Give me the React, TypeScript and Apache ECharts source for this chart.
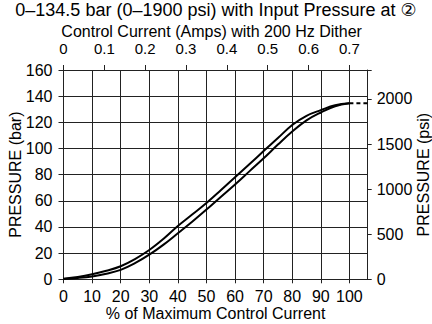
import React, { useEffect, useRef } from "react";
import * as echarts from "echarts";

const pctTicks = [0, 5, 10, 15, 20, 25, 30, 35, 40, 45, 50, 55, 60, 65, 70, 75, 80, 85, 90, 95, 100];
const upperBar = [0.5, 1.8, 3.8, 6.5, 10, 15.5, 22.4, 31, 40.8, 49.5, 58.3, 68, 78, 88, 98, 108, 118, 125, 129.3, 133, 134.5];
const lowerBar = [0.3, 1, 2.2, 4.3, 7.2, 12.3, 18.8, 26.5, 35.2, 44, 53.3, 63, 72.5, 82.5, 92.5, 103, 113, 121.5, 127.5, 132.3, 134.5];
const ratedBar = 134.5;
const pctMax = 106.4;
const ampsPerPct = 0.007;
const barMax = 160;
const psiPerBar = 14.5038;
const bottomLabels = [0, 10, 20, 30, 40, 50, 60, 70, 80, 90, 100];
const topLabels = [0, 0.1, 0.2, 0.3, 0.4, 0.5, 0.6, 0.7];

const FONT = "'Liberation Sans', Arial, 'DejaVu Sans', sans-serif";

export default function App() {
  const ref = useRef<HTMLDivElement>(null);
  useEffect(() => {
    if (!ref.current) return;
    const chart = echarts.init(ref.current, null, { renderer: "svg" });
    const lineColor = "#222";
    const txt = { color: "#000", fontFamily: FONT, fontSize: 16 };
    const axisLine = { show: true, onZero: false, lineStyle: { color: lineColor, width: 1 } };
    chart.setOption({
      animation: false,
      backgroundColor: "#fff",
      textStyle: { fontFamily: FONT },
      title: {
        text: "0–134.5 bar (0–1900 psi) with Input Pressure at ②",
        left: "center",
        top: 1,
        padding: 0,
        textStyle: { ...txt, fontSize: 18, fontWeight: "normal" },
      },
      grid: {
        left: 63.5,
        right: 64.3,
        top: 70,
        bottom: 44.7,
        containLabel: false,
        outerBoundsMode: "none",
      },
      xAxis: [
        {
          type: "value",
          position: "bottom",
          min: 0,
          max: pctMax,
          interval: 10,
          name: "% of Maximum Control Current",
          nameLocation: "middle",
          nameGap: 26,
          nameMoveOverlap: false,
          nameTextStyle: { ...txt },
          axisLine,
          axisTick: { show: true, length: 4, lineStyle: { color: lineColor }, customValues: bottomLabels },
          axisLabel: {
            ...txt,
            margin: 9,
            customValues: bottomLabels,
            formatter: (v: number) => (v > 100.01 ? "" : String(v)),
          },
          splitLine: { show: true, lineStyle: { color: lineColor, width: 1 } },
        },
        {
          type: "value",
          position: "top",
          min: 0,
          max: pctMax * ampsPerPct,
          interval: 0.1,
          name: "Control Current (Amps) with 200 Hz Dither",
          nameLocation: "middle",
          nameGap: 31,
          nameMoveOverlap: false,
          nameTextStyle: { ...txt, padding: [0, 8, 0, 0] },
          axisLine,
          axisTick: { show: true, length: 5, lineStyle: { color: lineColor }, customValues: topLabels },
          axisLabel: {
            ...txt,
            fontSize: 15,
            margin: 14,
            customValues: topLabels,
            formatter: (v: number) => (v > 0.701 ? "" : String(Math.round(v * 10) / 10)),
          },
          splitLine: { show: false },
        },
      ],
      yAxis: [
        {
          type: "value",
          position: "left",
          min: 0,
          max: barMax,
          interval: 20,
          name: "PRESSURE (bar)",
          nameLocation: "middle",
          nameRotate: 90,
          nameGap: 40,
          nameMoveOverlap: false,
          nameTextStyle: { ...txt },
          axisLine,
          axisTick: { show: true, length: 5, lineStyle: { color: lineColor } },
          axisLabel: { ...txt, margin: 11 },
          splitLine: { show: true, lineStyle: { color: lineColor, width: 1 } },
        },
        {
          type: "value",
          position: "right",
          min: 0,
          max: barMax * psiPerBar,
          interval: 500,
          name: "PRESSURE (psi)",
          nameLocation: "middle",
          nameRotate: 90,
          nameGap: 48,
          nameMoveOverlap: false,
          nameTextStyle: { ...txt },
          axisLine,
          axisTick: { show: true, length: 4, lineStyle: { color: lineColor } },
          axisLabel: {
            ...txt,
            margin: 9,
            formatter: (v: number) => (v > 2000.01 ? "" : String(v)),
          },
          splitLine: { show: false },
        },
      ],
      series: [
        {
          type: "line",
          xAxisIndex: 0,
          yAxisIndex: 0,
          data: pctTicks.map((p, i) => [p, upperBar[i]]),
          smooth: 0.4,
          showSymbol: false,
          lineStyle: { color: "#000", width: 2 },
        },
        {
          type: "line",
          xAxisIndex: 0,
          yAxisIndex: 0,
          data: pctTicks.map((p, i) => [p, lowerBar[i]]),
          smooth: 0.4,
          showSymbol: false,
          lineStyle: { color: "#000", width: 2 },
        },
        {
          type: "line",
          xAxisIndex: 0,
          yAxisIndex: 0,
          data: [
            [100, ratedBar],
            [pctMax, ratedBar],
          ],
          showSymbol: false,
          lineStyle: { color: "#000", width: 2, type: [4, 3] },
        },
      ],
    });
    return () => chart.dispose();
  }, []);
  return (
    <div
      ref={ref}
      style={{ position: "fixed", left: 0, top: 0, width: 432, height: 324, background: "#fff" }}
    />
  );
}
